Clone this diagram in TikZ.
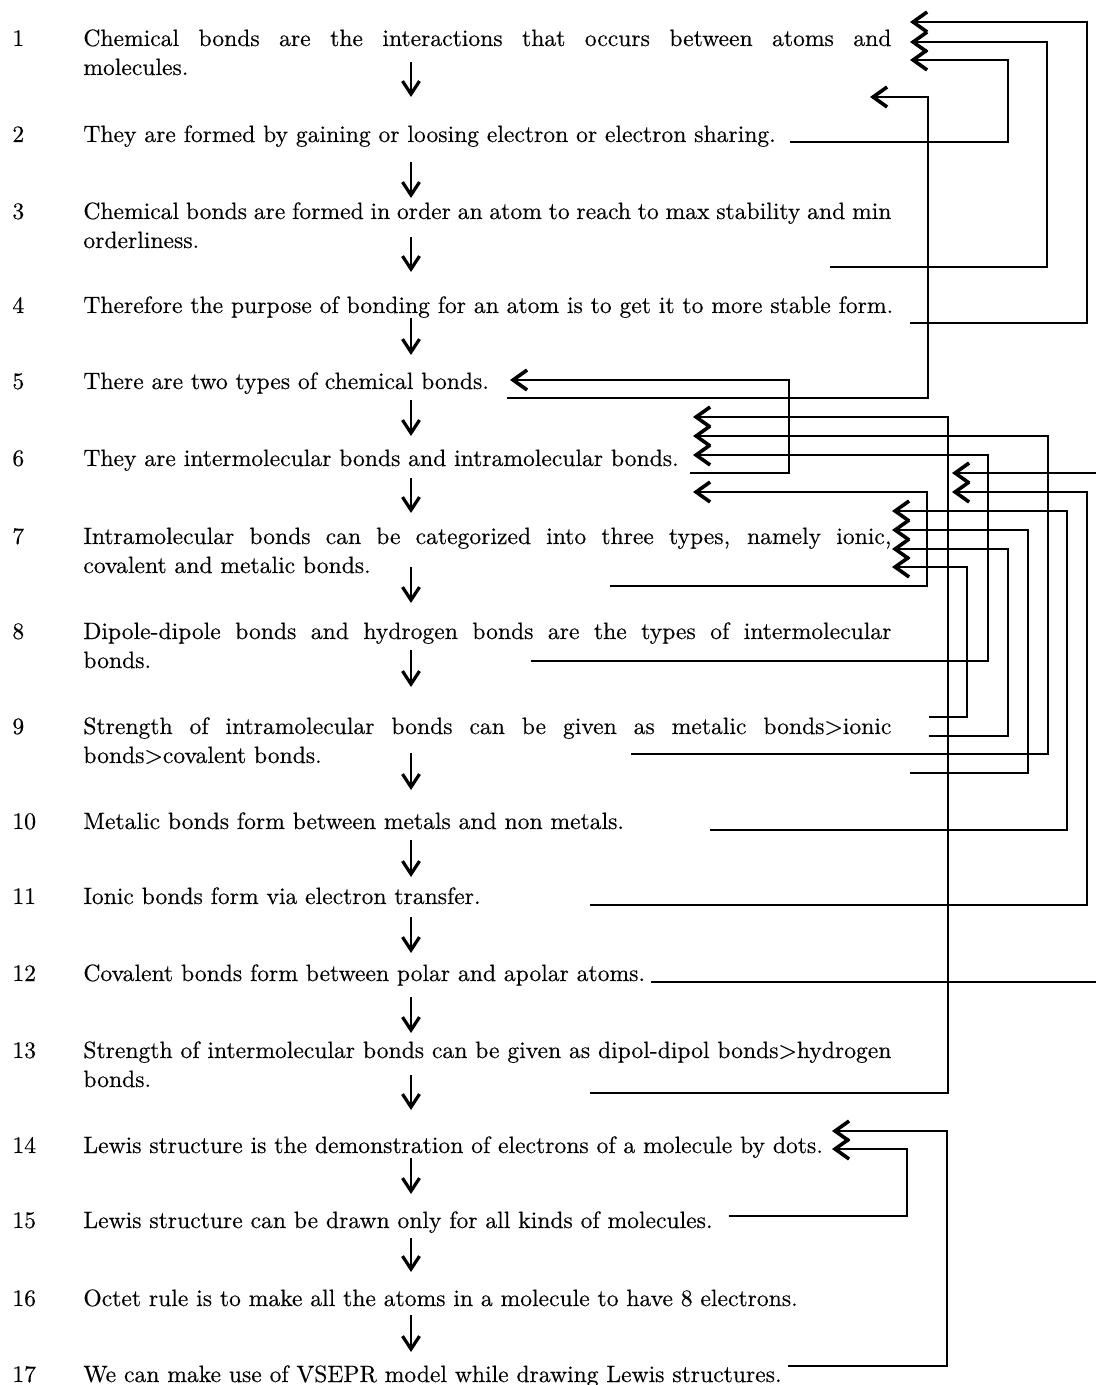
\documentclass[tikz,border=0pt]{standalone}
\usepackage{fontspec}
\setmainfont{lmroman10-regular.otf}[FakeBold=0.35]
\usepackage{tikz}
\usetikzlibrary{arrows.meta}
\tolerance=10000
\hbadness=10000

\tikzset{
	stmt/.style={anchor=base west, inner sep=0pt, font=\fontsize{11.8}{14.5}\selectfont},
	wide/.style={stmt, text width=404pt, align=justify},
	num/.style={stmt},
	link/.style={line width=1pt, -{Straight Barb[length=7pt,width=10pt,line width=1.8pt]}},
	flow/.style={line width=1.3pt, -{Straight Barb[length=6.5pt,width=8.5pt,line width=1.6pt]}}
}

\begin{document}
\begin{tikzpicture}[x=0.5pt, y=-0.5pt]
	\useasboundingbox (0,0) rectangle (1096,1385);

	% numbers
	\node[num] (n1) at (12, 46) {1};
	\node[num] (n2) at (12, 142) {2};
	\node[num] (n3) at (12, 219) {3};
	\node[num] (n4) at (12, 313) {4};
	\node[num] (n5) at (12, 389) {5};
	\node[num] (n6) at (12, 466) {6};
	\node[num] (n7) at (12, 544) {7};
	\node[num] (n8) at (12, 639) {8};
	\node[num] (n9) at (12, 734) {9};
	\node[num] (n10) at (12, 829) {10};
	\node[num] (n11) at (12, 904) {11};
	\node[num] (n12) at (12, 981) {12};
	\node[num] (n13) at (12, 1058) {13};
	\node[num] (n14) at (12, 1153) {14};
	\node[num] (n15) at (12, 1228) {15};
	\node[num] (n16) at (12, 1306) {16};
	\node[num] (n17) at (12, 1382) {17};

	% statements
	\node[wide] (s1) at (83, 46) {Chemical bonds are the interactions that occurs between atoms and\linebreak molecules.};
	\node[stmt] (s2) at (83, 142) {They are formed by gaining or loosing electron or electron sharing.};
	\node[wide] (s3) at (83, 219) {Chemical bonds are formed in order an atom to reach to max stability and min\linebreak orderliness.};
	\node[stmt] (s4) at (83, 313) {Therefore the purpose of bonding for an atom is to get it to more stable form.};
	\node[stmt] (s5) at (83, 389) {There are two types of chemical bonds.};
	\node[stmt] (s6) at (83, 466) {They are intermolecular bonds and intramolecular bonds.};
	\node[wide] (s7) at (83, 544) {Intramolecular bonds can be categorized into three types, namely ionic,\linebreak covalent and metalic bonds.};
	\node[wide] (s8) at (83, 639) {Dipole-dipole bonds and hydrogen bonds are the types of intermolecular\linebreak bonds.};
	\node[wide] (s9) at (83, 734) {Strength of intramolecular bonds can be given as metalic bonds>ionic\linebreak bonds>covalent bonds.};
	\node[stmt] (s10) at (83, 829) {Metalic bonds form between metals and non metals.};
	\node[stmt] (s11) at (83, 904) {Ionic bonds form via electron transfer.};
	\node[stmt] (s12) at (83, 981) {Covalent bonds form between polar and apolar atoms.};
	\node[wide] (s13) at (83, 1058) {Strength of intermolecular bonds can be given as dipol-dipol bonds>hydrogen\linebreak bonds.};
	\node[stmt] (s14) at (83, 1153) {Lewis structure is the demonstration of electrons of a molecule by dots.};
	\node[stmt] (s15) at (83, 1228) {Lewis structure can be drawn only for all kinds of molecules.};
	\node[stmt] (s16) at (83, 1306) {Octet rule is to make all the atoms in a molecule to have 8 electrons.};
	\node[stmt] (s17) at (83, 1382) {We can make use of VSEPR model while drawing Lewis structures.};

	% down arrows
	\coordinate (a1) at (411, 62);    \coordinate (b1) at (411, 97);
	\coordinate (a2) at (411, 162);   \coordinate (b2) at (411, 198);
	\coordinate (a3) at (411, 237);   \coordinate (b3) at (411, 272);
	\coordinate (a4) at (411, 318);   \coordinate (b4) at (411, 355);
	\coordinate (a5) at (411, 400);   \coordinate (b5) at (411, 436);
	\coordinate (a6) at (411, 478);   \coordinate (b6) at (411, 513);
	\coordinate (a7) at (411, 567);   \coordinate (b7) at (411, 603);
	\coordinate (a8) at (411, 650);   \coordinate (b8) at (411, 687);
	\coordinate (a9) at (411, 753);   \coordinate (b9) at (411, 790);
	\coordinate (a10) at (411, 840);  \coordinate (b10) at (411, 877);
	\coordinate (a11) at (411, 917);  \coordinate (b11) at (411, 953);
	\coordinate (a12) at (411, 997);  \coordinate (b12) at (411, 1033);
	\coordinate (a13) at (411, 1075); \coordinate (b13) at (411, 1110);
	\coordinate (a14) at (411, 1158); \coordinate (b14) at (411, 1194);
	\coordinate (a15) at (411, 1238); \coordinate (b15) at (411, 1272);
	\coordinate (a16) at (411, 1315); \coordinate (b16) at (411, 1352);
	\draw[flow] (a1) -- (b1);
	\draw[flow] (a2) -- (b2);
	\draw[flow] (a3) -- (b3);
	\draw[flow] (a4) -- (b4);
	\draw[flow] (a5) -- (b5);
	\draw[flow] (a6) -- (b6);
	\draw[flow] (a7) -- (b7);
	\draw[flow] (a8) -- (b8);
	\draw[flow] (a9) -- (b9);
	\draw[flow] (a10) -- (b10);
	\draw[flow] (a11) -- (b11);
	\draw[flow] (a12) -- (b12);
	\draw[flow] (a13) -- (b13);
	\draw[flow] (a14) -- (b14);
	\draw[flow] (a15) -- (b15);
	\draw[flow] (a16) -- (b16);

	% link ends
	\coordinate (o2) at (790, 142);
	\coordinate (o3) at (830, 267);
	\coordinate (o4) at (910, 323);
	\coordinate (o5) at (507, 398);
	\coordinate (o6) at (690, 473);
	\coordinate (o7) at (610, 586);
	\coordinate (o8) at (531, 661);
	\coordinate (o9a) at (929, 717);
	\coordinate (o9b) at (929, 736);
	\coordinate (o9c) at (631, 754);
	\coordinate (o9d) at (910, 773);
	\coordinate (o10) at (710, 830);
	\coordinate (o11) at (590, 905);
	\coordinate (o12) at (651, 982);
	\coordinate (o13) at (590, 1093);
	\coordinate (o15) at (729, 1216);
	\coordinate (o17) at (788, 1366);

	% link tips
	\coordinate (i1a) at (910, 22);
	\coordinate (i1b) at (910, 42);
	\coordinate (i1c) at (910, 60);
	\coordinate (i2) at (870, 97);
	\coordinate (i5) at (510, 380);
	\coordinate (i6a) at (693, 417);
	\coordinate (i6b) at (693, 436);
	\coordinate (i6c) at (693, 455);
	\coordinate (i6d) at (693, 492);
	\coordinate (i6e) at (952, 473);
	\coordinate (i6f) at (952, 492);
	\coordinate (i7a) at (892, 511);
	\coordinate (i7b) at (892, 530);
	\coordinate (i7c) at (892, 549);
	\coordinate (i7d) at (892, 567);
	\coordinate (i14a) at (832, 1131);
	\coordinate (i14b) at (832, 1149);

	% links
	\draw[link] (o4) -| (1087, 22) -- (i1a);
	\draw[link] (o3) -| (1047, 42) -- (i1b);
	\draw[link] (o2) -| (1008, 60) -- (i1c);
	\draw[link] (o5) -| (928, 97) -- (i2);
	\draw[link] (o6) -| (789, 380) -- (i5);
	\draw[link] (o13) -| (948, 417) -- (i6a);
	\draw[link] (o9c) -| (1048, 436) -- (i6b);
	\draw[link] (o8) -| (988, 455) -- (i6c);
	\draw[link] (o7) -| (927, 492) -- (i6d);
	\draw[link] (o12) -| (1110, 473) -- (i6e);
	\draw[link] (o11) -| (1087, 492) -- (i6f);
	\draw[link] (o10) -| (1067, 511) -- (i7a);
	\draw[link] (o9d) -| (1028, 530) -- (i7b);
	\draw[link] (o9b) -| (1008, 549) -- (i7c);
	\draw[link] (o9a) -| (967, 567) -- (i7d);
	\draw[link] (o17) -| (947, 1131) -- (i14a);
	\draw[link] (o15) -| (907, 1149) -- (i14b);
\end{tikzpicture}
\end{document}
